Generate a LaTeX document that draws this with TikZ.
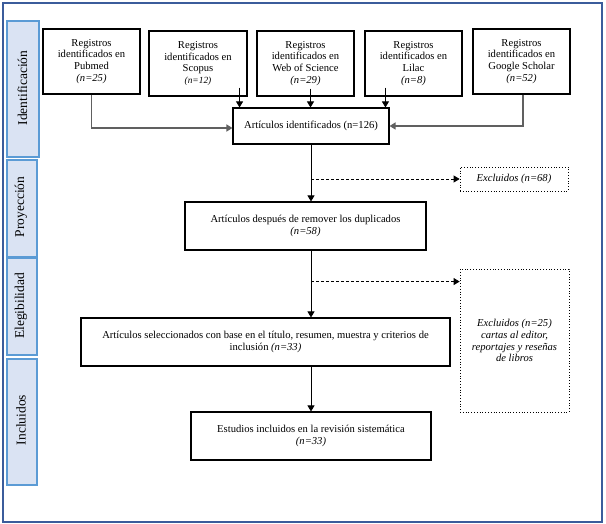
\documentclass[tikz,border=0pt]{standalone}
\usepackage{fontspec}
\setmainfont{Liberation Serif}
\usetikzlibrary{arrows.meta,calc}
\definecolor{frameblue}{HTML}{3B5C9B}
\definecolor{barfill}{HTML}{DAE3F3}
\definecolor{barline}{HTML}{5B9BD5}
\definecolor{grayline}{HTML}{606060}
\newcommand{\smallit}[1]{{\fontsize{9.4}{11.8}\selectfont\itshape #1}}
\begin{document}
\begin{tikzpicture}[x=1pt,y=-1pt,
  box/.style={draw=black,line width=1.1pt,align=center,inner sep=0pt,
    font=\fontsize{10.6}{11.8}\selectfont},
  dbox/.style={draw=black,dotted,line width=0.8pt,align=center,inner sep=0pt,
    font=\fontsize{10.6}{11.8}\selectfont\itshape},
  bar/.style={draw=barline,fill=barfill,line width=1.2pt},
  bartxt/.style={rotate=90,inner sep=0pt,font=\fontsize{13.5}{15}\selectfont},
  arr/.style={-{Triangle[length=6pt,width=7pt]},line width=0.9pt},
  grayarr/.style={arr,draw=grayline,line width=1.3pt},
  dasharr/.style={arr,dash pattern=on 3pt off 2pt,line width=0.8pt}
]
\useasboundingbox (0,0) rectangle (606,524);
\fill[white] (0,0) rectangle (606,524);
\draw[frameblue,line width=1.3pt] (3,3) rectangle (602,522);

% side bars
\draw[bar] (7,21) rectangle (39,157);
\node[bartxt] (l1) at (22.5,88) {Identificación};
\draw[bar] (7,160) rectangle (37,257);
\node[bartxt] (l2) at (21,207) {Proyección};
\draw[bar] (7,258) rectangle (37,355);
\node[bartxt] (l3) at (21,306) {Elegibilidad};
\draw[bar] (7,359) rectangle (37,485);
\node[bartxt] (l4) at (21,420) {Incluidos};

% top boxes
\node[box,minimum width=97pt,minimum height=65pt] (pub) at (91.5,61.5)
  {Registros\\identificados en\\Pubmed\\\textit{(n=25)}};
\node[box,minimum width=98pt,minimum height=65pt] (sco) at (198,63.5)
  {Registros\\identificados en\\Scopus\\\smallit{(n=12)}};
\node[box,minimum width=97pt,minimum height=65pt] (wos) at (305.5,63.5)
  {Registros\\identificados en\\Web of Science\\\textit{(n=29)}};
\node[box,minimum width=97pt,minimum height=65pt] (lil) at (413.5,63.5)
  {Registros\\identificados en\\Lilac\\\textit{(n=8)}};
\node[box,minimum width=97pt,minimum height=65pt] (goo) at (521.5,61.5)
  {Registros\\identificados en\\Google Scholar\\\textit{(n=52)}};

\node[box,minimum width=156pt,minimum height=36pt] (ident) at (311,126)
  {Artículos identificados (n=126)};
\node[dbox,minimum width=108pt,minimum height=24pt] (exc68) at (514,179)
  {Excluidos (n=68)};
\node[box,minimum width=241pt,minimum height=48pt] (desp) at (305.5,226)
  {Artículos después de remover los duplicados\\\textit{(n=58)}};
\node[dbox,minimum width=109pt,minimum height=143pt] (exc25) at (514.5,340.5)
  {Excluidos (n=25)\\cartas al editor,\\reportajes y reseñas\\de libros};
\node[box,minimum width=369pt,minimum height=48pt] (selec) at (265.5,342)
  {Artículos seleccionados con base en el título, resumen, muestra y criterios de\\inclusión \textit{(n=33)}};
\node[box,minimum width=240pt,minimum height=48pt] (estud) at (311,436)
  {Estudios incluidos en la revisión sistemática\\\textit{(n=33)}};

% connectors from sources
\coordinate (s1) at ([xshift=-8pt,yshift=9pt]sco.south east);
\coordinate (s2) at ([xshift=5pt,yshift=8pt]wos.south);
\coordinate (s3) at ([xshift=21pt,yshift=9pt]lil.south west);
\draw[grayarr] (pub.south) |- ($(ident.west)+(0,2)$);
\draw[arr] (s1) -- (s1 |- ident.north);
\draw[arr] (s2) -- (s2 |- ident.north);
\draw[arr] (s3) -- (s3 |- ident.north);
\draw[grayarr] ([xshift=1.5pt]goo.south) |- (ident.east);

% main flow
\draw[arr] (ident.south) -- (ident.south |- desp.north);
\draw[dasharr] (ident.south |- exc68.west) -- (exc68.west);
\draw[arr] (ident.south |- desp.south) -- (ident.south |- selec.north);
\coordinate (d2) at ($(ident.south |- desp.south)+(0,31)$);
\draw[dasharr] (d2) -- (d2 -| exc25.west);
\draw[arr] (ident.south |- selec.south) -- (estud.north);
\end{tikzpicture}
\end{document}
